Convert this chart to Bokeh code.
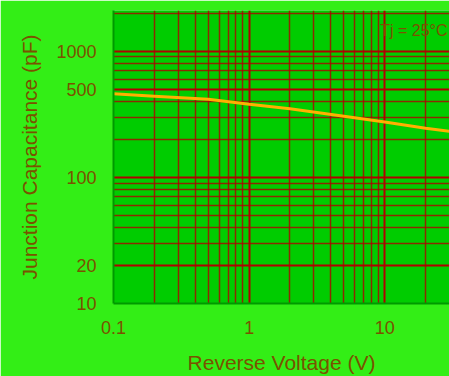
from bokeh.plotting import figure
from bokeh.models import FixedTicker, Label
from bokeh.embed import file_html
from bokeh.resources import INLINE

# data
voltage = [0.1, 0.2, 0.5, 1, 2, 5, 10, 20, 30]
capacitance = [460, 440, 415, 380, 350, 305, 275, 245, 232]
x_ticks = [0.1, 1, 10]
y_ticks = [10, 20, 100, 500, 1000]
x_minor = [0.2, 0.3, 0.4, 0.5, 0.6, 0.7, 0.8, 0.9,
           2, 3, 4, 5, 6, 7, 8, 9, 20, 30]
y_minor = [30, 40, 50, 60, 70, 80, 90,
           200, 300, 400, 600, 700, 800, 900, 2000]

p = figure(width=449, height=376, x_axis_type="log", y_axis_type="log",
           x_range=(0.1, 30), y_range=(10, 2100),
           output_backend="svg", toolbar_location=None,
           min_border_left=113, min_border_top=10, min_border_right=0,
           min_border_bottom=73)

p.background_fill_color = "#00cc00"
p.border_fill_color = "#33ee16"
p.outline_line_color = None

for g in (p.xgrid, p.ygrid):
    g.grid_line_color = "#b00000"
    g.grid_line_width = 2
    g.minor_grid_line_color = "#b00000"
    g.minor_grid_line_width = 1.5
    g.minor_grid_line_alpha = 0.8

p.line(voltage, capacitance, line_color="#ffb000", line_width=3)

p.xaxis.ticker = FixedTicker(ticks=x_ticks, minor_ticks=x_minor)
p.yaxis.ticker = FixedTicker(ticks=y_ticks, minor_ticks=y_minor)
p.xaxis.major_label_overrides = {0.1: "0.1", 1: "1", 10: "10"}
p.yaxis.major_label_overrides = {10: "10", 20: "20", 100: "100", 500: "500", 1000: "1000"}

p.xaxis.axis_label = "Reverse Voltage (V)"
p.yaxis.axis_label = "Junction Capacitance (pF)"

for ax in (p.xaxis[0], p.yaxis[0]):
    ax.axis_line_color = "#009900"
    ax.axis_line_width = 2
    ax.major_tick_line_color = None
    ax.minor_tick_line_color = None
    ax.major_label_text_font = "Liberation Sans"
    ax.major_label_text_font_size = "18px"
    ax.major_label_text_color = "#7a5200"
    ax.axis_label_text_font = "Liberation Sans"
    ax.axis_label_text_font_size = "21px"
    ax.axis_label_text_font_style = "normal"
    ax.axis_label_text_color = "#7a5200"
    ax.major_label_standoff = 11

p.yaxis.axis_label_standoff = 12
p.xaxis.axis_label_standoff = 14

p.add_layout(Label(x=29, y=1450, text="Tj = 25°C", text_font="Liberation Sans",
                   text_font_size="16px", text_color="#7a5200",
                   text_align="right", text_baseline="middle"))

open("out.html", "w").write(file_html(p, INLINE))
